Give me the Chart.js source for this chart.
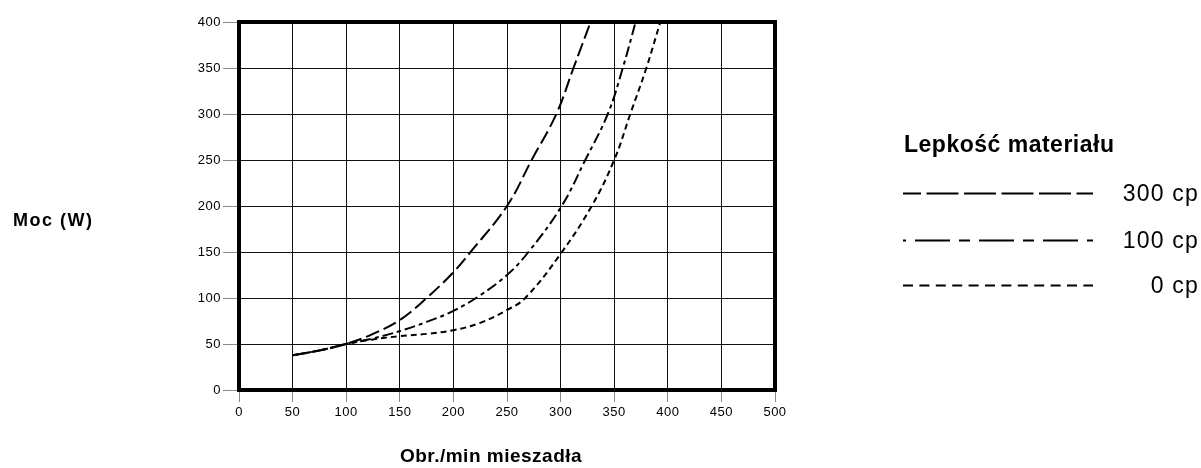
<!DOCTYPE html>
<html><head><meta charset="utf-8">
<script src="https://cdn.jsdelivr.net/npm/chart.js@4"></script>
<style>html,body{margin:0;padding:0;background:#fff}#wrap{width:1201px;height:468px}</style>
</head><body><div id="wrap"><canvas id="c" width="1201" height="468"></canvas></div>
<script>
// ---- data ----
const xTickValues = [0, 50, 100, 150, 200, 250, 300, 350, 400, 450, 500];
const yTickValues = [0, 50, 100, 150, 200, 250, 300, 350, 400];
const seriesLabels = ['300 cp', '100 cp', '0 cp'];
const legendTitle = 'Lepkość materiału';
const xAxisTitle = 'Obr./min mieszadła';
const yAxisTitle = 'Moc (W)';

const rpm300 = [50, 75, 100, 125, 150, 175, 200, 216, 250, 273, 296, 312, 328];
const pow300 = [37.7, 43, 50, 61, 76, 100, 128, 150, 200, 250, 300, 350, 400];

const rpm100 = [50, 75, 100, 125, 150, 175, 200, 225, 250, 270, 301, 323, 344, 358, 370];
const pow100 = [37.7, 43, 50, 56, 64, 74, 86, 103, 125, 150, 200, 250, 300, 350, 400];

const rpm0 = [50, 75, 100, 125, 150, 175, 200, 225, 250, 267, 300, 329, 350, 365, 380, 393];
const pow0 = [37.7, 43, 50, 55, 58.5, 61, 65, 73, 87, 100, 148, 200, 250, 300, 350, 400];

const toPts = (xs, ys) => xs.map((v, i) => ({x: v, y: ys[i]}));

const FONT = '"Liberation Sans", Arial, sans-serif';
const plotDash = [[14, 5], [11, 4, 4, 4], [6, 4]];
const legendDash = [
  {dash: [32, 5.5], offset: 14},
  {dash: [35, 9, 11, 9], offset: 52},
  {dash: [10, 6.4], offset: 0}
];

const extras = {
  id: 'extras',
  beforeDraw(chart) {
    chart.ctx.letterSpacing = '0.5px';
  },
  afterDatasetsDraw(chart) {
    const ctx = chart.ctx, a = chart.chartArea;
    ctx.save();
    ctx.setLineDash([]);
    ctx.strokeStyle = '#000';
    ctx.lineWidth = 4;
    ctx.strokeRect(a.left, a.top, a.right - a.left, a.bottom - a.top);
    ctx.restore();
  },
  afterDraw(chart) {
    const ctx = chart.ctx;
    ctx.save();
    ctx.fillStyle = '#000';
    ctx.textBaseline = 'alphabetic';
    // y title
    ctx.letterSpacing = '1.5px';
    ctx.font = 'bold 18px ' + FONT;
    ctx.textAlign = 'left';
    ctx.fillText(yAxisTitle, 13, 226);
    // x title
    ctx.letterSpacing = '0.5px';
    ctx.font = 'bold 19px ' + FONT;
    ctx.textAlign = 'center';
    ctx.fillText(xAxisTitle, 491, 462);
    // legend title
    ctx.font = 'bold 23px ' + FONT;
    ctx.textAlign = 'left';
    ctx.fillText(legendTitle, 904, 152);
    // legend entries
    const ys = [193, 240, 285];
    ctx.letterSpacing = '1.2px';
    ctx.font = '23px ' + FONT;
    ctx.textAlign = 'right';
    seriesLabels.forEach((lab, i) => {
      ctx.save();
      ctx.strokeStyle = '#000';
      ctx.lineWidth = 2;
      ctx.setLineDash(legendDash[i].dash);
      ctx.lineDashOffset = legendDash[i].offset;
      ctx.beginPath();
      ctx.moveTo(903, ys[i] + 0.5);
      ctx.lineTo(1093, ys[i] + 0.5);
      ctx.stroke();
      ctx.restore();
      ctx.fillText(lab, 1199, ys[i] + 8);
    });
    ctx.restore();
    ctx.letterSpacing = '0px';
  }
};

const datasets = [toPts(rpm300, pow300), toPts(rpm100, pow100), toPts(rpm0, pow0)].map((d, i) => ({
  label: seriesLabels[i],
  data: d,
  borderColor: '#000',
  borderWidth: 2,
  borderDash: plotDash[i],
  pointRadius: 0,
  fill: false,
  tension: 0.4
}));

new Chart(document.getElementById('c'), {
  type: 'line',
  data: {datasets},
  options: {
    responsive: false,
    devicePixelRatio: 1,
    animation: false,
    layout: {padding: {left: 0, right: 426, top: 22, bottom: 0}},
    plugins: {legend: {display: false}, tooltip: {enabled: false}},
    scales: {
      x: {
        type: 'linear', min: 0, max: 500,
        afterBuildTicks: s => { s.ticks = xTickValues.map(v => ({value: v})); },
        afterFit: s => { s.height = 78; },
        border: {display: false},
        grid: {color: '#111', lineWidth: 1, tickLength: 12, tickColor: '#888'},
        ticks: {color: '#000', font: {family: FONT, size: 13}, padding: 3, maxRotation: 0}
      },
      y: {
        type: 'linear', min: 0, max: 400,
        afterBuildTicks: s => { s.ticks = yTickValues.map(v => ({value: v})); },
        afterFit: s => { s.width = 239; },
        border: {display: false},
        grid: {color: '#111', lineWidth: 1, tickLength: 16, tickColor: '#888'},
        ticks: {color: '#000', font: {family: FONT, size: 13}, padding: 2}
      }
    }
  },
  plugins: [extras]
});
</script>
</body></html>
